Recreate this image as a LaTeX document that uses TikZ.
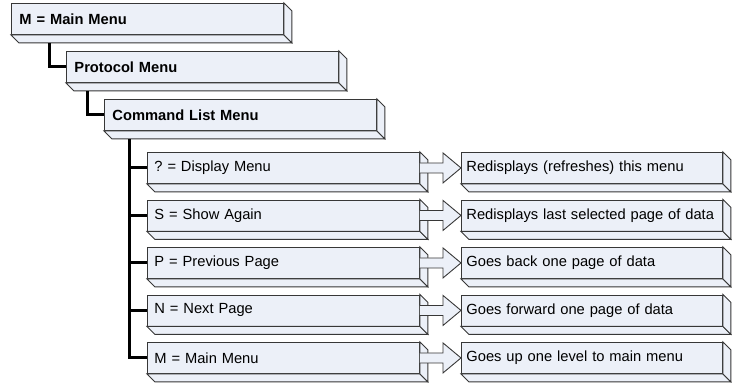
\documentclass[tikz,border=0pt]{standalone}
\usepackage{fontspec}
\setmainfont{Liberation Sans}
\usetikzlibrary{positioning, calc}
\frenchspacing
\definecolor{face}{RGB}{236,240,248}
\definecolor{edge}{RGB}{55,55,55}
\newcommand{\boxfont}{\fontsize{14.7}{17}\selectfont}
\tikzstyle{menubox} = [rectangle, draw = edge, fill = face, line width=0.9pt, minimum height=31pt, inner xsep=8pt, inner ysep=0pt, text width=256pt, align=left, font=\boxfont\bfseries]
\tikzstyle{itembox} = [rectangle, draw = edge, fill = face, line width=0.9pt, minimum height=31pt, inner xsep=7pt, inner ysep=0pt, text width=258pt, align=left, font=\boxfont]
\tikzstyle{descbox} = [itembox, inner xsep=5pt, text width=251pt]
\tikzstyle{slab} = [draw = edge, fill = face, line width=0.9pt]
\tikzstyle{trunk} = [line width=3pt, black]
\tikzstyle{blockarrow} = [draw = edge, fill = face, line width=0.9pt]
\newcommand{\bevel}[1]{%
	\filldraw[slab] (#1.south west) -- ++(8,8) -- ($(#1.south east)+(8,8)$) -- (#1.south east) -- cycle;
	\filldraw[slab] (#1.north east) -- ++(8,8) -- ($(#1.south east)+(8,8)$) -- (#1.south east) -- cycle;}

\begin{document}
\begin{tikzpicture}[x=1pt, y=-1pt, node distance=47.5pt]
	\useasboundingbox (0,0) rectangle (732,383);
	% menu levels
	\node (main) [menubox, anchor=north west] at (11,3) {M = Main Menu};
	\node (proto) [menubox, anchor=north west] at (66,51) {Protocol Menu};
	\node (cmd) [menubox, anchor=north west] at (104,99) {Command List Menu};
	% commands
	\node (disp) [itembox, anchor=north west] at (147,152) {? = Display Menu};
	\node (again) [itembox, below of=disp] {S = Show Again};
	\node (prev) [itembox, below of=again] {P = Previous Page};
	\node (next) [itembox, below of=prev] {N = Next Page};
	\node (back) [itembox, below of=next] {M = Main Menu};
	% what they do
	\node (ddisp) [descbox, right of=disp, xshift=261pt] {Redisplays (refreshes) this menu};
	\node (dagain) [descbox, right of=again, xshift=261pt] {Redisplays last selected page of data};
	\node (dprev) [descbox, right of=prev, xshift=261pt] {Goes back one page of data};
	\node (dnext) [descbox, right of=next, xshift=261pt] {Goes forward one page of data};
	\node (dback) [descbox, right of=back, xshift=261pt] {Goes up one level to main menu};
	\foreach \n in {main,proto,cmd,disp,again,prev,next,back,ddisp,dagain,dprev,dnext,dback}
		\bevel{\n};
	\foreach \a/\b in {disp/ddisp, again/dagain, prev/dprev, next/dnext, back/dback}
		\filldraw[blockarrow] ($(\a.east)+(0,-5)$) -- ($(\b.west)+(-18,-5)$) -- ($(\b.west)+(-18,-15)$) -- (\b.west) -- ($(\b.west)+(-18,15)$) -- ($(\b.west)+(-18,5)$) -- ($(\a.east)+(0,5)$);
	\draw [trunk]([xshift=38pt,yshift=-8pt]main.south west) |- (proto.west);
	\draw [trunk]([xshift=21pt,yshift=-8pt]proto.south west) |- (cmd.west);
	\coordinate (tr) at ([xshift=25pt,yshift=-8pt]cmd.south west);
	\draw [trunk](tr) |- (back.west);
	\foreach \n in {disp,again,prev,next}
		\draw [trunk](tr |- \n.west) -- (\n.west);
\end{tikzpicture}
\end{document}
